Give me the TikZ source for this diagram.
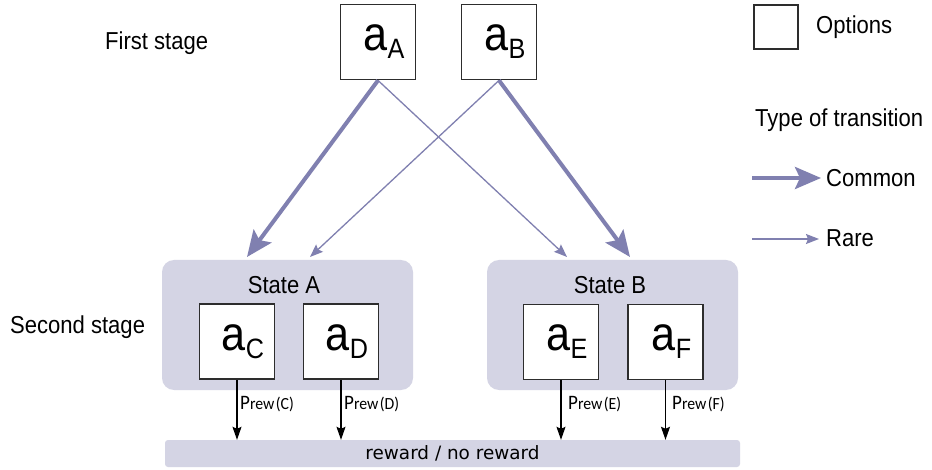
\documentclass[tikz,border=0pt]{standalone}
\usepackage{fontspec}
\setmainfont{Liberation Sans}
\newfontfamily\narrowsans[FakeStretch=0.9]{Liberation Sans}
\newfontfamily\barfont{DejaVu Sans}
\newfontfamily\probfont[FakeStretch=0.93]{Carlito}
\usetikzlibrary{arrows.meta}
\definecolor{arrowpurple}{RGB}{128,128,176}
\definecolor{panel}{RGB}{212,212,228}
\definecolor{boxline}{RGB}{45,45,45}

\newcommand{\optlabel}[1]{\hspace*{12pt}a{\fontsize{28}{30}\selectfont\raisebox{-8pt}{#1}}}
\newcommand{\prew}[1]{P{\fontsize{17}{19}\selectfont rew\hspace{1.5pt}(#1)}}

\begin{document}
\begin{tikzpicture}[x=1pt,y=-1pt,
  option/.style={draw=boxline, line width=1.8pt, fill=white, minimum width=75pt,
    minimum height=75pt, inner sep=0pt, font=\narrowsans\fontsize{48}{50}\selectfont},
  panelbox/.style={fill=panel, draw=none, rounded corners=12pt, minimum width=251pt,
    minimum height=130pt, inner sep=0pt},
  common/.style={draw=arrowpurple, line width=4pt,
    -{Stealth[length=26pt,width=22pt,inset=5pt]}},
  rare/.style={draw=arrowpurple, line width=1.3pt,
    -{Stealth[length=13pt,width=10pt,inset=2pt]}},
  rewardarrow/.style={draw=black, line width=1.2pt,
    -{Stealth[length=13pt,width=9pt,inset=2pt]}},
  lbl/.style={font=\narrowsans\fontsize{24.5}{28}\selectfont, inner sep=0pt},
  small/.style={font=\probfont\fontsize{20.5}{22}\selectfont, inner sep=0pt, anchor=west}
]
\fill[white] (0,0) rectangle (932,470);
\useasboundingbox (0,0) rectangle (932,470);

% second-stage panels and reward bar
\node[panelbox] (stA) at (287.5,325) {};
\node[panelbox] (stB) at (612.5,325) {};
\node[fill=panel, draw=none, rounded corners=3pt, minimum width=575pt,
  minimum height=27pt, inner sep=0pt, font=\barfont\fontsize{18.4}{21}\selectfont]
  (reward) at (452.5,453.5) {reward / no reward};

\node[lbl] (labA) at (284,285) {State A};
\node[lbl] (labB) at (610,285) {State B};

% first-stage options
\node[option] (aA) at (378,42) {\optlabel{A}};
\node[option] (aB) at (499,42) {\optlabel{B}};

% second-stage options
\node[option] (aC) at (237,341.5) {\optlabel{C}};
\node[option] (aD) at (341,341.5) {\optlabel{D}};
\node[option] (aE) at (561,342) {\optlabel{E}};
\node[option] (aF) at (665.5,342) {\optlabel{F}};

% stage labels
\node[lbl, anchor=west] (first) at (105,43) {First stage};
\node[lbl, anchor=west] (second) at (10,327) {Second stage};

% transitions
\coordinate (tA1) at (247,257);
\coordinate (tA2) at (310,257);
\coordinate (tB1) at (567,257);
\coordinate (tB2) at (630,257);
\draw[rare] (aA.south) -- (tB1);
\draw[rare] (aB.south) -- (tA2);
\draw[common] (aA.south) -- (tA1);
\draw[common] (aB.south) -- (tB2);

% reward probabilities
\draw[rewardarrow] (aC.south) -- (aC.south |- reward.north);
\draw[rewardarrow] (aD.south) -- (aD.south |- reward.north);
\draw[rewardarrow] (aE.south) -- (aE.south |- reward.north);
\draw[rewardarrow] (aF.south) -- (aF.south |- reward.north);
\node[small] (pC) at (240,404) {\prew{C}};
\node[small] (pD) at (344,404) {\prew{D}};
\node[small] (pE) at (568,404) {\prew{E}};
\node[small] (pF) at (672,404) {\prew{F}};

% legend
\node[draw=boxline, line width=1.5pt, minimum width=44pt, minimum height=44pt,
  inner sep=0pt] (legbox) at (776,27) {};
\node[lbl, anchor=west] (legopt) at (816,27) {Options};
\node[lbl, anchor=west] (legtype) at (755,120) {Type of transition};
\coordinate (lc1) at (752,178);
\coordinate (lc2) at (821,178);
\draw[common] (lc1) -- (lc2);
\node[lbl, anchor=west] (legcommon) at (826,178) {Common};
\coordinate (lr1) at (752,239);
\coordinate (lr2) at (819,239);
\draw[rare] (lr1) -- (lr2);
\node[lbl, anchor=west] (legrare) at (826,238) {Rare};
\end{tikzpicture}
\end{document}
